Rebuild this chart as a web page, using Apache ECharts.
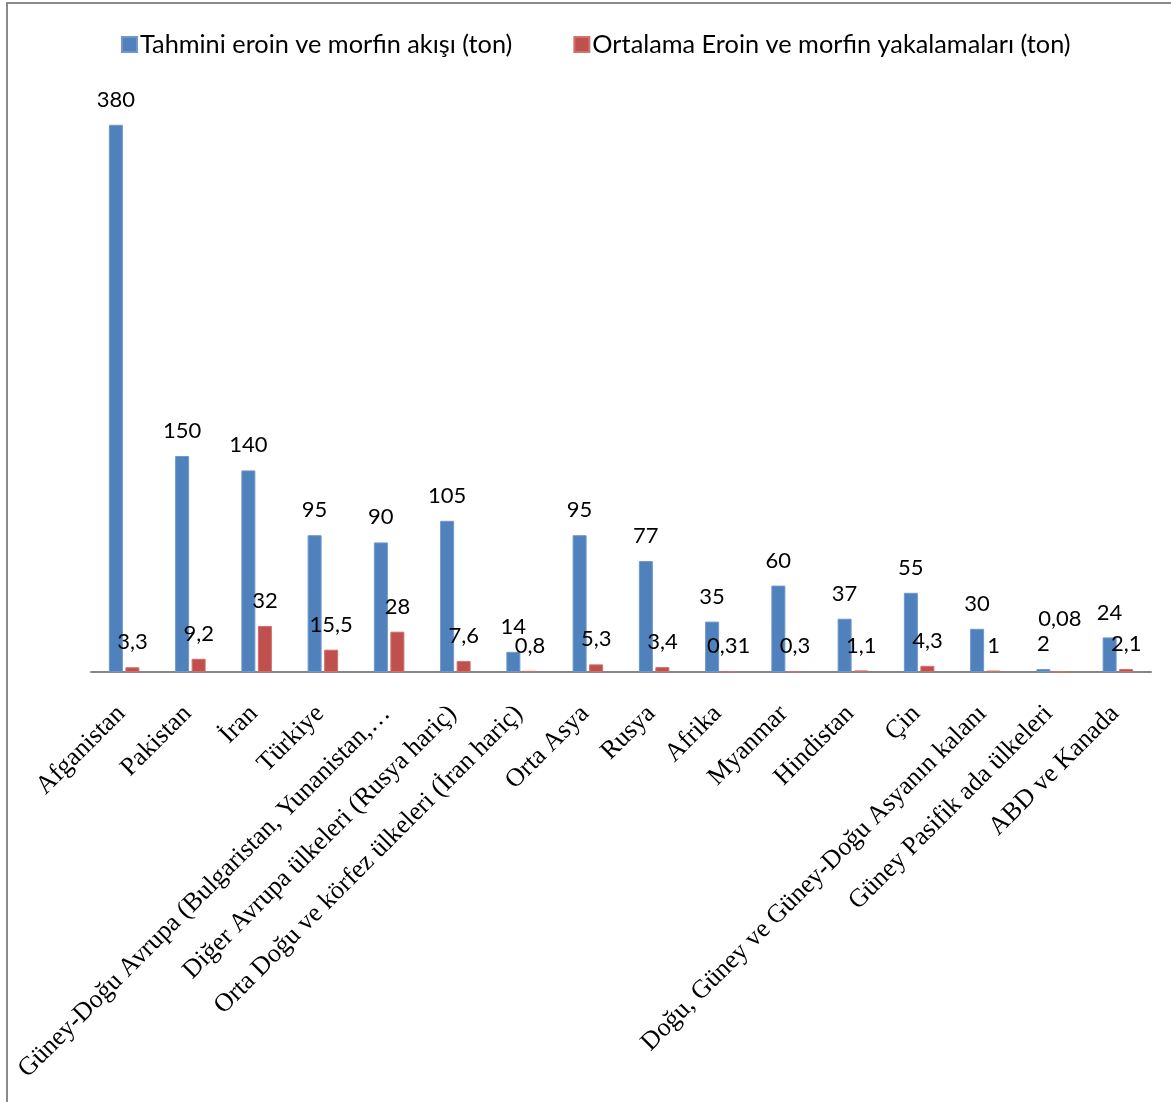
<!DOCTYPE html>
<html>
<head>
<meta charset="utf-8">
<script src="https://cdn.jsdelivr.net/npm/echarts@6/dist/echarts.min.js"></script>
<style>
  html, body { margin: 0; padding: 0; background: #ffffff; }
  #chart { width: 1171px; height: 1102px; }
</style>
</head>
<body>
<div id="chart"></div>
<script>
// Regions along the trafficking route
const categories = [
  'Afganistan', 'Pakistan', 'İran', 'Türkiye',
  'Güney-Doğu Avrupa (Bulgaristan, Yunanistan,…',
  'Diğer Avrupa ülkeleri (Rusya hariç)',
  'Orta Doğu ve körfez ülkeleri (İran hariç)',
  'Orta Asya', 'Rusya', 'Afrika', 'Myanmar', 'Hindistan', 'Çin',
  'Doğu, Güney ve Güney-Doğu Asyanın kalanı',
  'Güney Pasifik ada ülkeleri', 'ABD ve Kanada'
];

// Estimated heroin and morphine flow (tons)
const flowTons = [380, 150, 140, 95, 90, 105, 14, 95, 77, 35, 60, 37, 55, 30, 2, 24];

// Average heroin and morphine seizures (tons)
const seizureTons = [3.3, 9.2, 32, 15.5, 28, 7.6, 0.8, 5.3, 3.4, 0.31, 0.3, 1.1, 4.3, 1, 0.08, 2.1];

const seriesNames = [
  'Tahmini eroin ve morfin akışı (ton)',
  'Ortalama Eroin ve morfin yakalamaları (ton)'
];

const fmt = v => String(v).replace('.', ',');
const labelFont = 'Lato, "Open Sans", sans-serif';

const valueLabel = {
  show: true,
  position: 'top',
  distance: 14,
  color: '#000000',
  fontFamily: labelFont,
  fontSize: 22,
  formatter: p => fmt(p.value)
};

// The seizure label for the South Pacific sits higher so it clears the flow label
const seizureData = seizureTons.map((v, i) =>
  i === 14 ? { value: v, label: { offset: [0, -28] } } : v
);

const chart = echarts.init(document.getElementById('chart'), null, { renderer: 'canvas' });

chart.setOption({
  animation: false,
  backgroundColor: '#ffffff',
  graphic: [{
    type: 'rect',
    shape: { x: 7, y: 3, width: 1200, height: 1200 },
    style: { fill: 'none', stroke: '#8a8a8a', lineWidth: 2 },
    silent: true
  }],
  legend: {
    top: 27,
    left: 116,
    itemWidth: 15,
    itemHeight: 15,
    itemGap: 61,
    icon: 'rect',
    textStyle: { fontFamily: labelFont, fontSize: 25.3, color: '#000000', padding: [0, 0, 0, -2] },
    data: seriesNames
  },
  grid: { left: 91, right: 20, top: 96, height: 576 },
  xAxis: {
    type: 'category',
    data: categories,
    axisLine: { show: true, lineStyle: { color: '#868686', width: 2 } },
    axisTick: { show: false },
    axisLabel: {
      interval: 0,
      rotate: 45,
      margin: 35,
      padding: [0, 4, 0, 0],
      color: '#000000',
      fontFamily: '"Liberation Serif", "Times New Roman", serif',
      fontSize: 26
    }
  },
  yAxis: {
    type: 'value',
    min: 0,
    max: 400,
    show: false,
    splitLine: { show: false }
  },
  series: [
    {
      name: seriesNames[0],
      type: 'bar',
      data: flowTons,
      barWidth: 14,
      barGap: '18%',
      itemStyle: { color: '#4F81BD', borderColor: '#6f97cb', borderWidth: 1 },
      label: valueLabel
    },
    {
      name: seriesNames[1],
      type: 'bar',
      data: seizureData,
      barWidth: 14,
      itemStyle: { color: '#C0504D', borderColor: '#cf716e', borderWidth: 1 },
      label: valueLabel
    }
  ]
});
</script>
</body>
</html>
